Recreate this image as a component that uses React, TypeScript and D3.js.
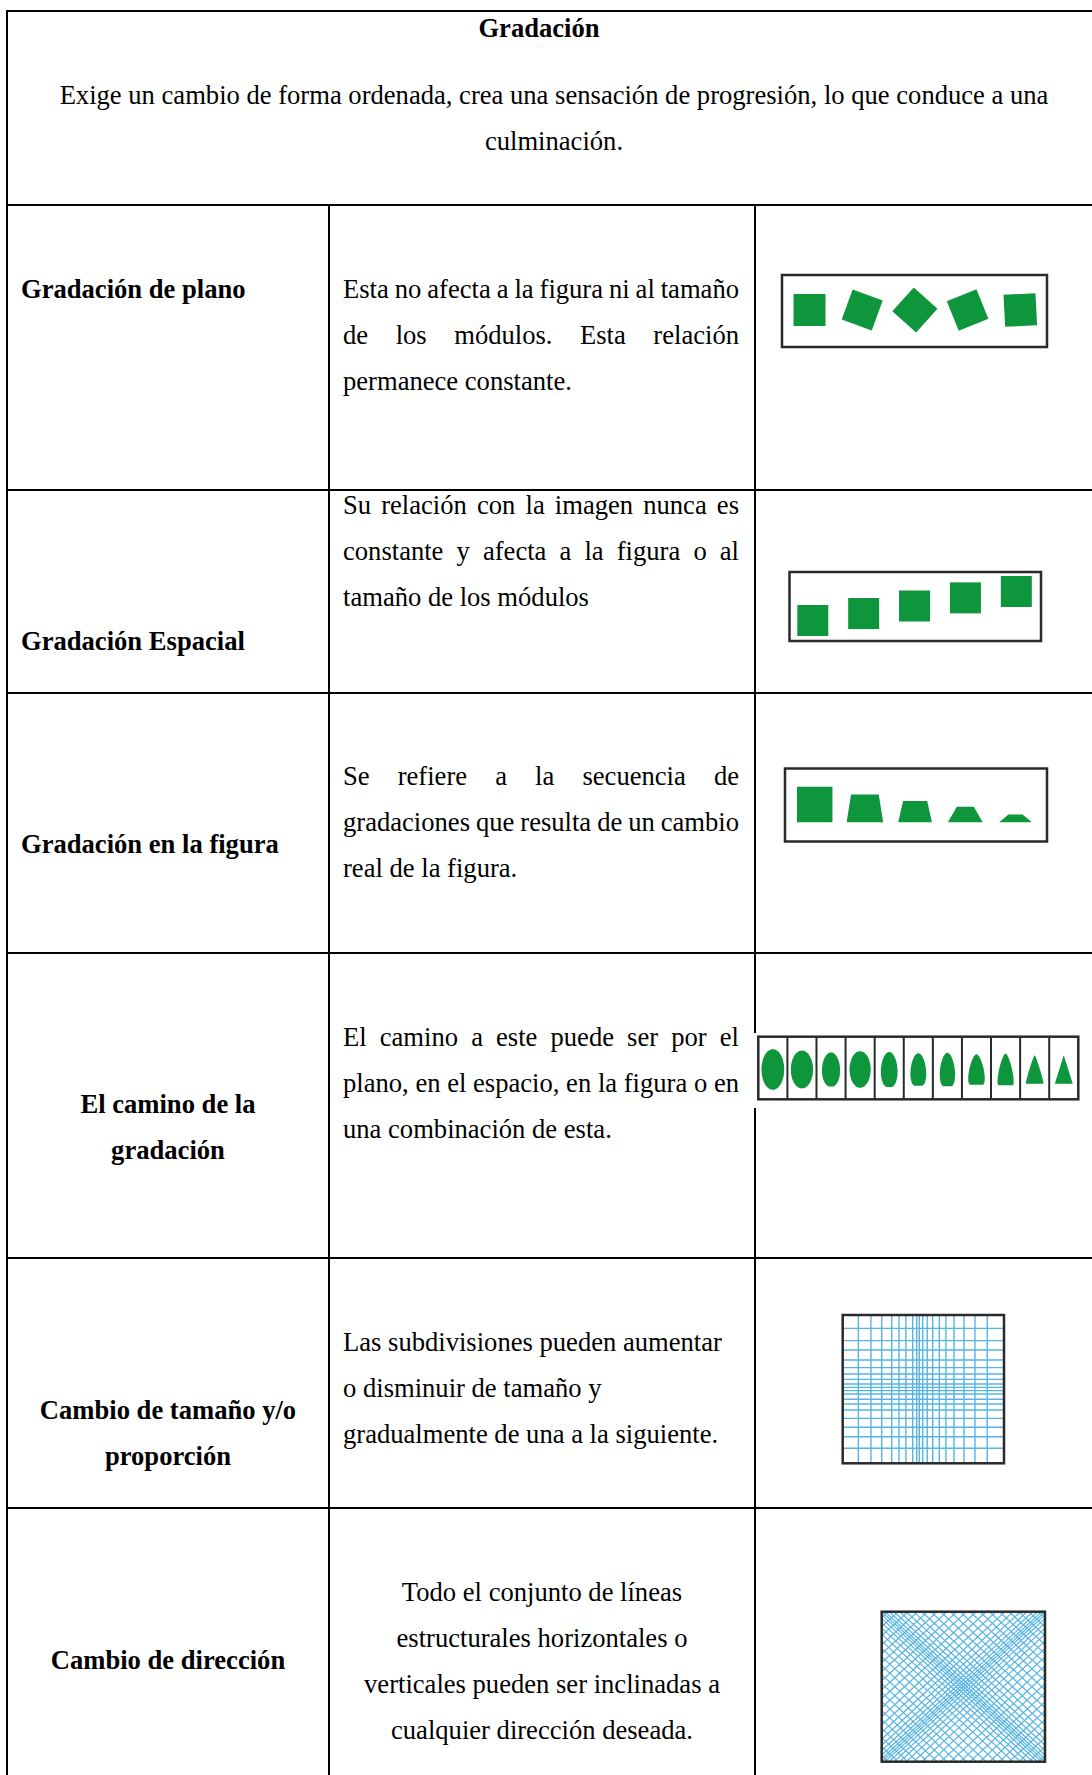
import React, { useEffect, useRef } from 'react';
import * as d3 from 'd3';

// ---- text content ----
const headerTitle = 'Gradación';
const headerLines = [
  'Exige un cambio de forma ordenada, crea una sensación de progresión, lo que conduce a una',
  'culminación.',
];

const rowLabels = [
  ['Gradación de plano'],
  ['Gradación Espacial'],
  ['Gradación en la figura'],
  ['El camino de la', 'gradación'],
  ['Cambio de tamaño y/o', 'proporción'],
  ['Cambio de dirección'],
];

const rowTexts = [
  ['Esta no afecta a la figura ni al tamaño', 'de los módulos. Esta relación', 'permanece constante.'],
  ['Su relación con la imagen nunca es', 'constante y afecta a la figura o al', 'tamaño de los módulos'],
  ['Se refiere a la secuencia de', 'gradaciones que resulta de un cambio', 'real de la figura.'],
  ['El camino a este puede ser por el', 'plano, en el espacio, en la figura o en', 'una combinación de esta.'],
  ['Las subdivisiones pueden aumentar', 'o disminuir de tamaño y', 'gradualmente de una a la siguiente.'],
  ['Todo el conjunto de líneas', 'estructurales horizontales o', 'verticales pueden ser inclinadas a', 'cualquier dirección deseada.'],
];

// ---- illustration values ----
// plano: rotation of each module (degrees)
const planoAngles = [0, 20, 42, -22, -3];
// espacial: relative rise of each module
const espacialRise = [0, 0.24, 0.5, 0.78, 1];
// figura: relative height, top width and base width of each module
const figuraHeight = [1, 0.78, 0.6, 0.44, 0.22];
const figuraTop = [1, 0.78, 0.68, 0.48, 0.4];
const figuraBase = [1, 1.03, 0.95, 0.98, 0.92];
// camino: ellipse (0) -> triangle (1) morph, relative width and height
const caminoMorph = [0, 0, 0.1, 0, 0.2, 0.35, 0.4, 0.6, 0.7, 0.9, 1];
const caminoWidth = [1, 0.98, 0.84, 0.93, 0.81, 0.82, 0.81, 0.91, 0.88, 0.85, 0.79];
const caminoHeight = [1, 0.93, 0.84, 0.9, 0.86, 0.8, 0.82, 0.75, 0.78, 0.7, 0.7];
// tamaño: grid line positions (percent of frame)
const gridCols = [9.7, 17.5, 24.2, 30.4, 34.9, 39.2, 43.4, 45.9, 47.5, 49.6, 52.4, 55.8, 59.9, 64.0, 69.0, 75.2, 82.0, 89.6];
const gridRows = [9.0, 17.3, 23.6, 30.3, 35.5, 39.8, 43.4, 46.5, 48.8, 51.0, 53.3, 56.8, 60.0, 64.1, 69.7, 75.7, 82.1, 89.9];
// dirección: diagonal line offsets from the diagonals (fraction of frame)
const diagOffsets = [0, 0.02, 0.045, 0.075, 0.11, 0.15, 0.195, 0.245, 0.3, 0.36, 0.42, 0.48,
  0.54, 0.6, 0.66, 0.72, 0.78, 0.84, 0.9, 0.96];

// ---- layout ----
const WIDTH = 1092;
const HEIGHT = 1775;
const colEdges = [7, 329, 755, WIDTH];
const rowEdges = [11, 205, 490, 693, 953, 1258, 1508];
const FONT = "'Liberation Serif', 'Times New Roman', serif";
const FONT_SIZE = 26.6;
const LINE_GAP = 46;
const GREEN = '#0e963c';
const BLUE = '#56b4e4';
const FRAME = '#2a2a2a';

const labelBaselines = [298, 650, 853, 1113, 1419, 1669];
const labelAlign = ['start', 'start', 'start', 'middle', 'middle', 'middle'];
const textBaselines = [298, 514, 785, 1046, 1351, 1601];
const textAlign = ['justify', 'justify', 'justify', 'justify', 'start', 'middle'];

type G = d3.Selection<SVGGElement, unknown, null, undefined>;

const App: React.FC = () => {
  const svgRef = useRef<SVGSVGElement>(null);

  useEffect(() => {
    if (!svgRef.current) return;
    const svg = d3.select(svgRef.current);
    svg.selectAll('*').remove();

    svg.append('rect').attr('width', WIDTH).attr('height', HEIGHT).attr('fill', '#fff');

    const g = svg.append('g') as unknown as G;

    // table grid
    rowEdges.forEach(y => {
      g.append('line').attr('x1', colEdges[0] - 1).attr('x2', WIDTH).attr('y1', y).attr('y2', y)
        .attr('stroke', '#000').attr('stroke-width', 2);
    });
    g.append('line').attr('x1', colEdges[0]).attr('x2', colEdges[0]).attr('y1', rowEdges[0] - 1).attr('y2', HEIGHT)
      .attr('stroke', '#000').attr('stroke-width', 2);
    [colEdges[1], colEdges[2]].forEach(x => {
      g.append('line').attr('x1', x).attr('x2', x).attr('y1', rowEdges[1]).attr('y2', HEIGHT)
        .attr('stroke', '#000').attr('stroke-width', 2);
    });

    const addText = (txt: string, x: number, y: number, anchor: string, bold = false) =>
      g.append('text')
        .attr('x', x).attr('y', y)
        .attr('text-anchor', anchor)
        .style('font-family', FONT)
        .style('font-size', `${FONT_SIZE}px`)
        .style('font-weight', bold ? '700' : '400')
        .style('fill', '#000')
        .text(txt);

    const addJustified = (txt: string, x: number, y: number, width: number) => {
      const words = txt.split(' ');
      const nodes = words.map(w => addText(w, x, y, 'start'));
      const widths = nodes.map(n => (n.node() as SVGTextElement).getComputedTextLength());
      const gap = words.length > 1 ? (width - d3.sum(widths)) / (words.length - 1) : 0;
      let cx = x;
      nodes.forEach((n, i) => {
        n.attr('x', cx);
        cx += widths[i] + gap;
      });
    };

    // header
    addText(headerTitle, 539, 37, 'middle', true);
    headerLines.forEach((l, i) => addText(l, 554, 104 + i * LINE_GAP, 'middle'));

    // labels
    const col1Center = (colEdges[0] + colEdges[1]) / 2;
    rowLabels.forEach((lines, r) => {
      lines.forEach((l, i) => {
        const x = labelAlign[r] === 'start' ? 21 : col1Center;
        addText(l, x, labelBaselines[r] + i * LINE_GAP, labelAlign[r], true);
      });
    });

    // descriptions
    const descX = 343;
    const descW = 396;
    const descCenter = (colEdges[1] + colEdges[2]) / 2;
    rowTexts.forEach((lines, r) => {
      lines.forEach((l, i) => {
        const y = textBaselines[r] + i * LINE_GAP;
        if (textAlign[r] === 'justify' && i < lines.length - 1) addJustified(l, descX, y, descW);
        else if (textAlign[r] === 'middle') addText(l, descCenter, y, 'middle');
        else addText(l, descX, y, 'start');
      });
    });

    const frame = (x: number, y: number, w: number, h: number, fill = '#fff') =>
      g.append('rect').attr('x', x).attr('y', y).attr('width', w).attr('height', h)
        .attr('fill', fill).attr('stroke', FRAME).attr('stroke-width', 2.5);

    // --- plano ---
    {
      const fx = 782, fy = 275, fw = 265, fh = 72;
      frame(fx, fy, fw, fh);
      const x = d3.scalePoint<number>().domain(d3.range(planoAngles.length)).range([809.5, 1020.3]);
      const side = 32;
      planoAngles.forEach((a, i) => {
        g.append('rect')
          .attr('x', -side / 2).attr('y', -side / 2).attr('width', side).attr('height', side)
          .attr('fill', GREEN)
          .attr('transform', `translate(${x(i)},${fy + fh / 2 - 1}) rotate(${a})`);
      });
    }

    // --- espacial ---
    {
      const fx = 789.5, fy = 572, fw = 251.5, fh = 69;
      frame(fx, fy, fw, fh);
      const x = d3.scalePoint<number>().domain(d3.range(espacialRise.length)).range([812.8, 1016.3]);
      const y = d3.scaleLinear().domain([0, 1]).range([605, 576]);
      const side = 31;
      espacialRise.forEach((v, i) => {
        g.append('rect').attr('x', (x(i) as number) - side / 2).attr('y', y(v))
          .attr('width', side).attr('height', side).attr('fill', GREEN);
      });
    }

    // --- figura ---
    {
      const fx = 785, fy = 768.5, fw = 262, fh = 73;
      frame(fx, fy, fw, fh);
      const x = d3.scalePoint<number>().domain(d3.range(figuraHeight.length)).range([814.7, 1015.5]);
      const m = d3.scaleLinear().domain([0, 1]).range([0, 35.5]);
      const base = 822.3;
      const line = d3.line();
      figuraHeight.forEach((h, i) => {
        const cx = x(i) as number;
        const tw = m(figuraTop[i]) / 2;
        const bw = m(figuraBase[i]) / 2;
        const top = base - m(h);
        g.append('path')
          .attr('d', line([[cx - bw, base], [cx - tw, top], [cx + tw, top], [cx + bw, base]]) + 'Z')
          .attr('fill', GREEN);
      });
    }

    // --- camino ---
    {
      const fx = 758.3, fy = 1036.7, fw = 320, fh = 62.6;
      g.append('rect').attr('x', 752).attr('y', 1033).attr('width', 330).attr('height', 75).attr('fill', '#fff');
      frame(fx, fy, fw, fh);
      const band = d3.scaleBand<number>().domain(d3.range(caminoMorph.length)).range([fx, fx + fw]);
      const wScale = d3.scaleLinear().domain([0, 1]).range([0, 22.7]);
      const hScale = d3.scaleLinear().domain([0, 1]).range([0, 40.7]);
      const cy = 1069.5;
      const line = d3.line().curve(d3.curveLinearClosed);
      caminoMorph.forEach((t, i) => {
        const bx = band(i) as number;
        if (i > 0) {
          g.append('line').attr('x1', bx).attr('x2', bx).attr('y1', fy).attr('y2', fy + fh)
            .attr('stroke', FRAME).attr('stroke-width', 2);
        }
        const cx = bx + band.bandwidth() / 2;
        const hw = wScale(caminoWidth[i]) / 2;
        const hh = hScale(caminoHeight[i]) / 2;
        const thetas = d3.range(0, Math.PI + 1e-6, Math.PI / 40);
        const side = thetas.map(th => {
          const v = -Math.cos(th);
          const k = (1 - t) * Math.sin(th) + t * (v + 1) / 2;
          return [k * hw, v * hh];
        });
        const pts: [number, number][] = [
          ...side.map(([dx, dy]) => [cx + dx, cy + dy] as [number, number]),
          ...side.slice().reverse().map(([dx, dy]) => [cx - dx, cy + dy] as [number, number]),
        ];
        g.append('path').attr('d', line(pts)).attr('fill', GREEN);
      });
    }

    // --- tamaño ---
    {
      const fx = 842.7, fy = 1315, fw = 161.3, fh = 148.3;
      g.append('rect').attr('x', fx).attr('y', fy).attr('width', fw).attr('height', fh).attr('fill', '#fff');
      const x = d3.scaleLinear().domain([0, 100]).range([fx, fx + fw]);
      const y = d3.scaleLinear().domain([0, 100]).range([fy, fy + fh]);
      gridCols.forEach(c => {
        g.append('line').attr('x1', x(c)).attr('x2', x(c)).attr('y1', fy).attr('y2', fy + fh)
          .attr('stroke', BLUE).attr('stroke-width', 1.4);
      });
      gridRows.forEach(r => {
        g.append('line').attr('x1', fx).attr('x2', fx + fw).attr('y1', y(r)).attr('y2', y(r))
          .attr('stroke', BLUE).attr('stroke-width', 1.4);
      });
      frame(fx, fy, fw, fh, 'none');
    }

    // --- dirección ---
    {
      const fx = 881.7, fy = 1611.7, fw = 163.3, fh = 150;
      g.append('rect').attr('x', fx).attr('y', fy).attr('width', fw).attr('height', fh).attr('fill', '#fff');
      svg.append('defs').append('clipPath').attr('id', 'dir-clip')
        .append('rect').attr('x', fx).attr('y', fy).attr('width', fw).attr('height', fh);
      const x = d3.scaleLinear().domain([0, 1]).range([fx, fx + fw]);
      const y = d3.scaleLinear().domain([0, 1]).range([fy, fy + fh]);
      const lg = g.append('g').attr('clip-path', 'url(#dir-clip)');
      const offsets = Array.from(new Set([...diagOffsets, ...diagOffsets.map(o => -o)]));
      offsets.forEach(c => {
        // u - v = c  (down-right)
        lg.append('line').attr('x1', x(c - 1)).attr('y1', y(-1)).attr('x2', x(c + 2)).attr('y2', y(2))
          .attr('stroke', BLUE).attr('stroke-width', 1.2);
        // u + v = 1 + c  (down-left)
        lg.append('line').attr('x1', x(2 + c)).attr('y1', y(-1)).attr('x2', x(c - 1)).attr('y2', y(2))
          .attr('stroke', BLUE).attr('stroke-width', 1.2);
      });
      frame(fx, fy, fw, fh, 'none');
    }
  }, []);

  return (
    <div style={{ position: 'absolute', left: 0, top: 0, width: WIDTH, height: HEIGHT, background: '#fff' }}>
      <svg ref={svgRef} width={WIDTH} height={HEIGHT} style={{ display: 'block' }} />
    </div>
  );
};

export default App;
